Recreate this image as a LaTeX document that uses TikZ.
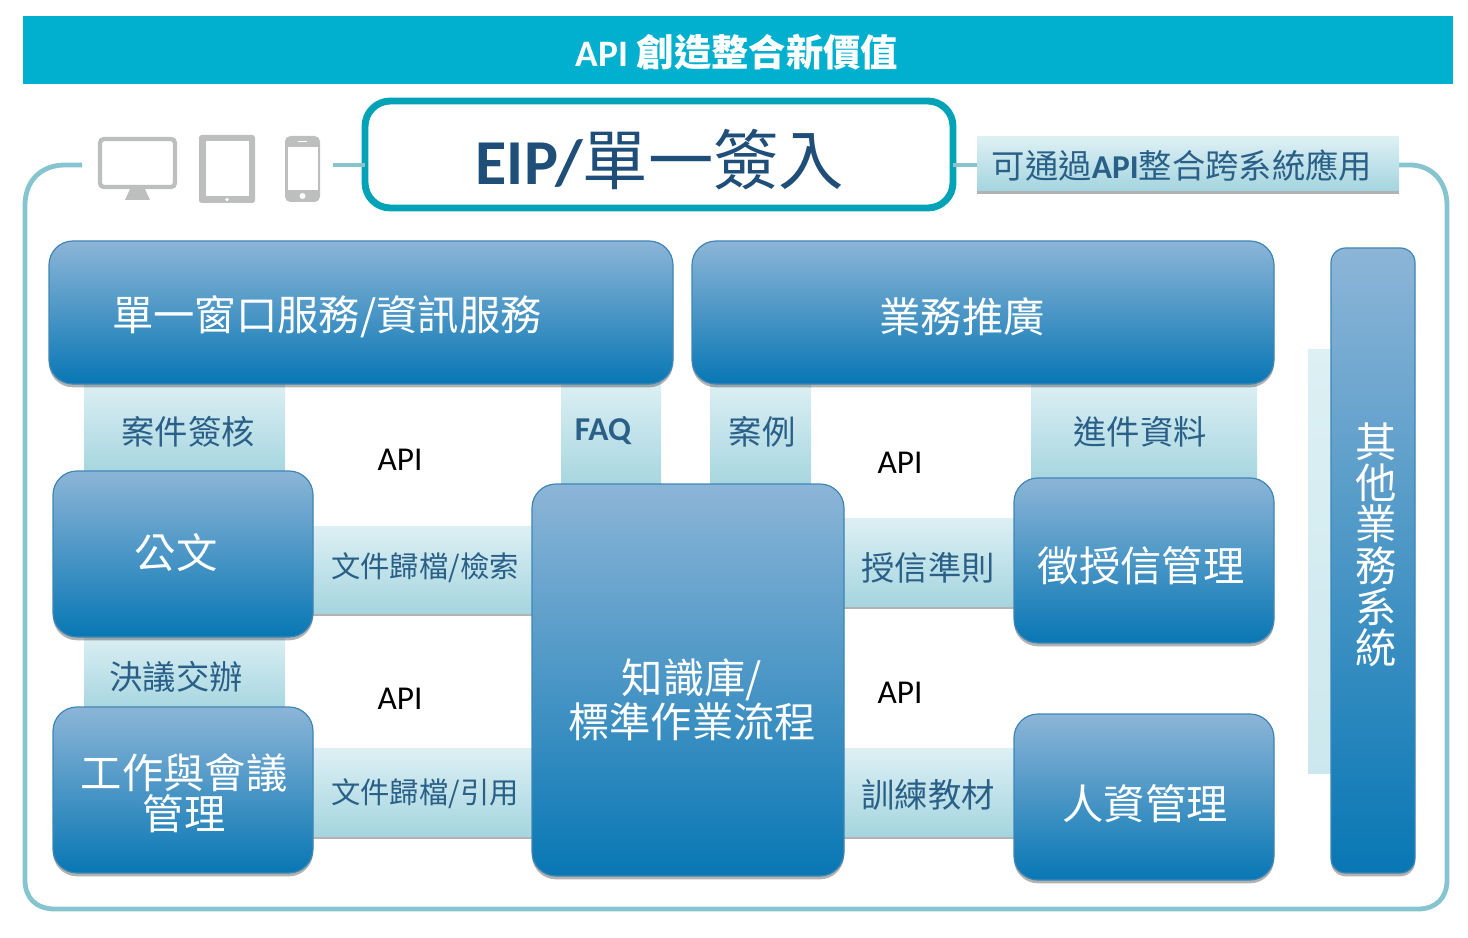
\documentclass[tikz,border=0pt]{standalone}
\usepackage{fontspec}
\setmainfont{Noto Sans CJK TC}
\newfontfamily\lat{Carlito}
\usetikzlibrary{shadows,calc}
\definecolor{band}{HTML}{00B0CE}
\definecolor{frame}{HTML}{86C5CF}
\definecolor{eipc}{HTML}{02A3B6}
\definecolor{navy}{HTML}{1F4E79}
\definecolor{bartext}{HTML}{2A6088}
\definecolor{icon}{HTML}{BDBFBF}
\newcommand\px[1]{\fontsize{#1*3/4}{#1*3/4}\selectfont}
\newcommand\bx[6][]{\node[#1,inner sep=0pt,outer sep=0pt,anchor=north west,
  minimum width={(#5-#3)*0.75pt},minimum height={(#6-#4)*0.75pt}] (#2) at (#3,#4) {};}
\newcommand\fs[1]{\fontsize{#1}{#1}\selectfont}
\tikzset{
  x=0.75pt,y=-0.75pt,
  bluebox/.style={rounded corners=18pt,draw=blueedge,line width=0.9pt,top color=bluetop,bottom color=bluebot,
    drop shadow={shadow xshift=0pt,shadow yshift=-2.5pt,opacity=.3,fill=black}},
  narrowbox/.style={bluebox,rounded corners=11pt},
  lightbar/.style={top color=bartop,bottom color=barbot,
    drop shadow={shadow xshift=0pt,shadow yshift=-2pt,opacity=.3,fill=black}},
  plainbar/.style={top color=bartop,bottom color=bartop!70!barbot},
  whitetext/.style={text=white,align=center},
  bartxt/.style={text=bartext,align=center},
  apitxt/.style={text=black,font=\lat\fs{25}},
  framing/.style={draw=frame,line width=3.6pt},
  iconfill/.style={fill=icon,draw=none},
}
\definecolor{bluetop}{HTML}{8CB5D7}
\definecolor{bluebot}{HTML}{0877B4}
\definecolor{blueedge}{HTML}{3F86B5}
\definecolor{bartop}{HTML}{DDF0F4}
\definecolor{barbot}{HTML}{A5D5DF}
\begin{document}
\begin{tikzpicture}
\useasboundingbox (0,0) rectangle (1468,938);
% title
\bx[fill=band]{titleband}{23}{16}{1453}{84}
\node[text=white,font=\fs{28}\bfseries] (title) at (737,52) {{\lat API} 創造整合新價值};
% frame
\coordinate (fa) at (82,165);
\coordinate (fb) at (333,165);
\coordinate (fc) at (1399,165);
\draw[framing] (fa) -- (65,165) .. controls (40,165) and (25,182) .. (25,205)
  -- (25,880) .. controls (25,898) and (36,909) .. (55,909) -- (1418,909)
  .. controls (1436,909) and (1447,898) .. (1447,880) -- (1447,205)
  .. controls (1447,182) and (1432,165) .. (1410,165) -- (fc);
% EIP
\bx[draw=eipc,line width=5.2pt,rounded corners=19pt,fill=white]{eip}{365}{101}{953}{208}
\node[text=navy,font=\fs{49}] (eiptxt) at (660,160) {{\lat\bfseries\fs{48}EIP/}單一簽入};
\draw[framing] (fb) -- (fb -| eip.west);
% note
\bx[lightbar]{note}{977}{137}{1399}{191}
\node[text=bartext,font=\fs{25}] (notetxt) at (1182,166) {可通過{\lat\bfseries API}整合跨系統應用};
\draw[framing] (eip.east |- fb) -- (note.west |- fb);
% icons
\draw[icon,line width=3.2pt,rounded corners=3pt,fill=white] (100,139) rectangle (175,187);
\fill[icon] (130,189) -- (145,189) -- (150,200) -- (125,200) -- cycle;
\fill[icon,rounded corners=2pt] (199,135) rectangle (255,203);
\fill[white] (206,141) rectangle (249,196);
\fill[white] (227,199.5) circle[radius=1.8];
\fill[icon,rounded corners=4pt] (285,136) rectangle (320,202);
\fill[white] (288,147) rectangle (318,190);
\fill[white] (302.5,196) circle[radius=3];
\draw[white,line width=1pt] (298,141.5) -- (307,141.5);
% side bar
\bx[plainbar]{sidebar}{1308}{349}{1331}{773}
% labelled bars
\bx[lightbar]{b1}{84}{380}{285}{475}
\bx[lightbar]{b2}{561}{380}{661}{488}
\bx[lightbar]{b3}{710}{380}{811}{488}
\bx[lightbar]{b4}{1031}{380}{1257}{482}
\bx[lightbar]{b5}{84}{633}{285}{711}
\bx[lightbar]{b6}{309}{526}{536}{613}
\bx[lightbar]{b7}{840}{518}{1018}{606}
\bx[lightbar]{b8}{309}{748}{536}{836}
\bx[lightbar]{b9}{840}{748}{1018}{836}
% blue boxes
\bx[bluebox]{top1}{49}{241}{673}{384}
\bx[bluebox]{top2}{692}{241}{1274}{384}
\bx[narrowbox]{other}{1331}{248}{1415}{873}
\bx[bluebox]{doc}{53}{471}{313}{637}
\bx[bluebox]{work}{53}{707}{313}{873}
\bx[bluebox]{know}{532}{484}{844}{876}
\bx[bluebox]{credit}{1014}{478}{1274}{643}
\bx[bluebox]{hr}{1014}{714}{1274}{880}
% blue box texts
\tikzset{every node/.append style={}}
\node[whitetext,font=\fs{31}] (t1) at (327,317) {單一窗口服務/資訊服務};
\node[whitetext,font=\fs{31}] (t2) at (962,317) {業務推廣};
\node[whitetext,font=\fs{31}] (t3) at (176,553) {公文};
\node[whitetext,font=\fs{31},text width=200pt] (t4) at (184,793) {\baselineskip=37pt 工作與會議\\管理};
\node[whitetext,font=\fs{31},text width=220pt] (t5) at (692,700) {\baselineskip=37pt 知識庫/\\標準作業流程};
\node[whitetext,font=\fs{31}] (t6) at (1141,566) {徵授信管理};
\node[whitetext,font=\fs{31}] (t7) at (1145,804) {人資管理};
\node[whitetext,font=\fs{31},text width=40pt] (t8) at (1376,545) {\baselineskip=31pt 其\\他\\業\\務\\系\\統};
% bar texts
\node[bartxt,font=\fs{25}] (l1) at (188,432) {案件簽核};
\node[bartxt,font=\lat\bfseries\fs{25}] (l2) at (603,432) {FAQ};
\node[bartxt,font=\fs{25}] (l3) at (762,432) {案例};
\node[bartxt,font=\fs{25}] (l4) at (1140,432) {進件資料};
\node[bartxt,font=\fs{25}] (l5) at (176,677) {決議交辦};
\node[bartxt,font=\fs{22}] (l6) at (425,568) {文件歸檔/檢索};
\node[bartxt,font=\fs{25}] (l7) at (928,568) {授信準則};
\node[bartxt,font=\fs{22}] (l8) at (425,794) {文件歸檔/引用};
\node[bartxt,font=\fs{25}] (l9) at (928,795) {訓練教材};
% API
\node[apitxt] (a1) at (400,460) {API};
\node[apitxt] (a2) at (900,463) {API};
\node[apitxt] (a3) at (400,699) {API};
\node[apitxt] (a4) at (900,693) {API};
\end{tikzpicture}
\end{document}
